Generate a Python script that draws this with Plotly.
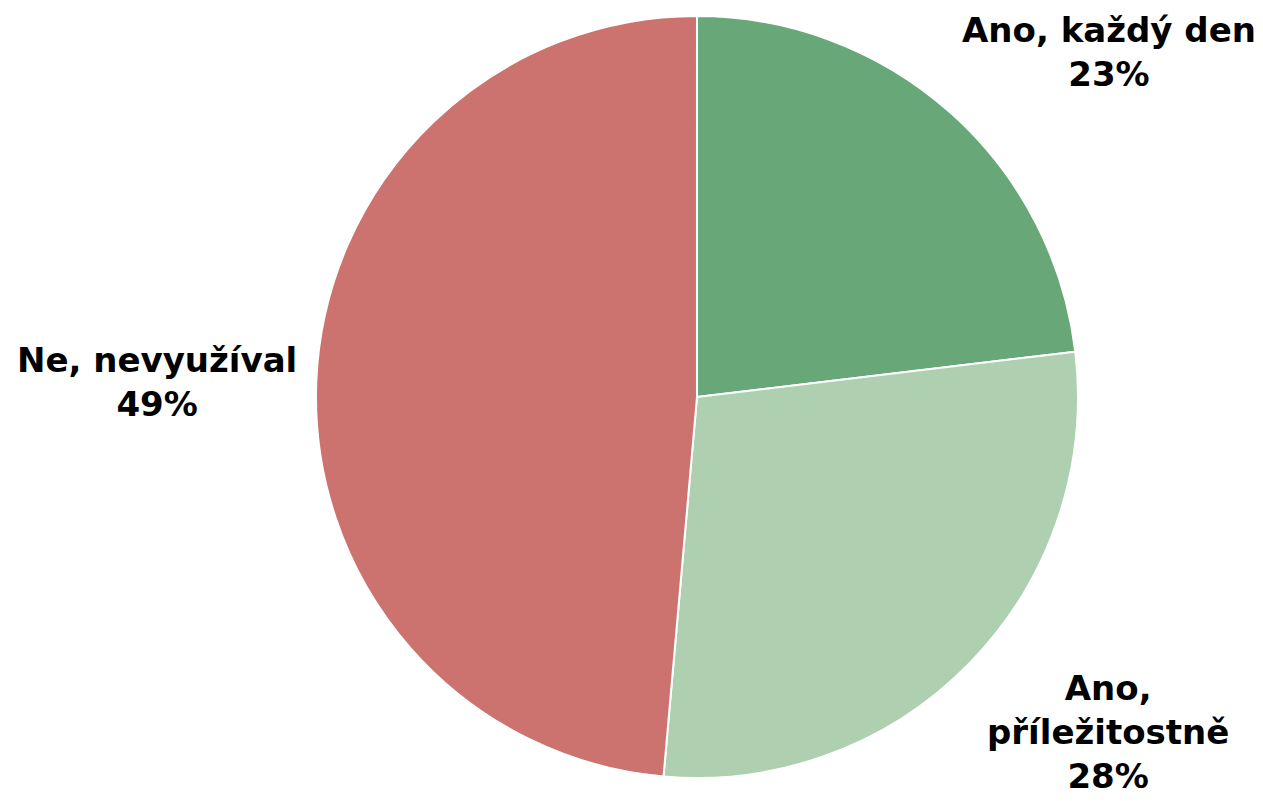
import plotly.graph_objects as go

labels = ["Ano, každý den", "Ano, příležitostně", "Ne, nevyužíval"]
values = [23.1, 28.3, 48.6]
colors = ["#68a778", "#aecfb0", "#cc736f"]

# text lines for the outside labels (long one broken in two)
label_lines = ["Ano, každý den", "Ano,<br>příležitostně", "Ne, nevyužíval"]
label_pos = [(0.878, 0.935), (0.877, 0.086), (0.124, 0.523)]

total = sum(values)

fig = go.Figure()
fig.add_trace(go.Pie(
    labels=labels,
    values=values,
    sort=False,
    direction="clockwise",
    rotation=0,
    textinfo="none",
    hoverinfo="label+percent",
    marker=dict(colors=colors, line=dict(color="white", width=2)),
    domain=dict(x=[0.2502, 0.8535], y=[0.0287, 0.980]),
    showlegend=False
))

for text, v, (x, y) in zip(label_lines, values, label_pos):
    fig.add_annotation(
        x=x, y=y, xref="paper", yref="paper",
        xanchor="center", yanchor="middle",
        text=f"{text}<br>{round(v / total * 100)}%",
        showarrow=False,
        font=dict(family="DejaVu Sans", size=34, color="black", weight="bold")
    )

fig.update_layout(
    width=1263,
    height=801,
    margin=dict(l=0, r=0, t=0, b=0),
    paper_bgcolor="white",
    plot_bgcolor="white"
)

fig.write_html("out.html", config={"displayModeBar": False},
               post_script="document.body.style.margin='0px';")
